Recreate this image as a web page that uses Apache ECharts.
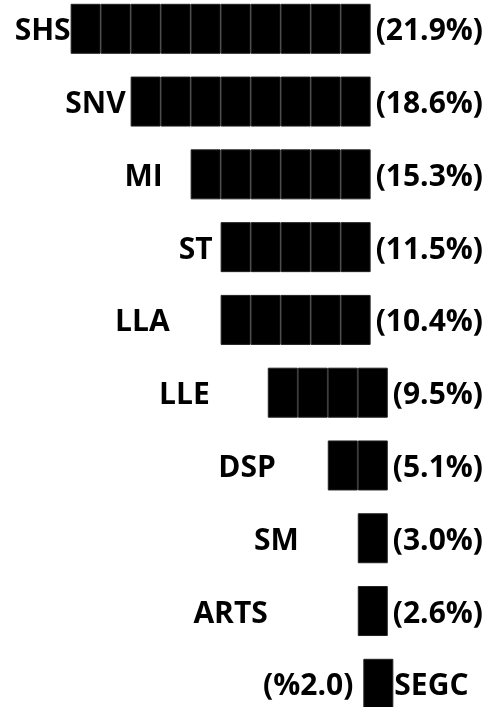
<!DOCTYPE html>
<html><head><meta charset="utf-8">
<script src="https://cdn.jsdelivr.net/npm/echarts@6/dist/echarts.min.js"></script>
<style>html,body{margin:0;padding:0;background:#fff}#c{width:488px;height:707px}</style>
</head><body><div id="c"></div>
<script>
// ---- data ----
const categories = ['SHS', 'SNV', 'MI', 'ST', 'LLA', 'LLE', 'DSP', 'SM', 'ARTS', 'SEGC'];
const shares = [21.9, 18.6, 15.3, 11.5, 10.4, 9.5, 5.1, 3.0, 2.6, 2.0];
const unitCounts = [10, 8, 6, 5, 5, 4, 2, 1, 1, 1];
const rowDirection = ['ltr', 'ltr', 'ltr', 'ltr', 'ltr', 'ltr', 'ltr', 'ltr', 'ltr', 'rtl'];

// ---- layout / style ----
const FONT_FAMILY = '"Open Sans", sans-serif';
const FONT_SIZE = 30;
const FONT_WEIGHT = 'bold';
const UNIT_PX = 30;
const ROW_END = 483;
const RTL_ROW_END = 468.5;
const VALUE_GAP = 5;
const nameGaps = [0, 5, 28, 8, 51, 58, 52, 59, 90, 10];
const TEXT_DY = 3;

const ctx = document.createElement('canvas').getContext('2d');
ctx.font = FONT_WEIGHT + ' ' + FONT_SIZE + 'px ' + FONT_FAMILY;
const tw = s => ctx.measureText(s).width;

const n = categories.length;
const leftText = [], rightText = [], barLeft = [], rightGap = [];
for (let i = 0; i < n; i++) {
  const v = shares[i].toFixed(1);
  let barRight;
  if (rowDirection[i] === 'rtl') {
    leftText.push('(%' + v + ')');
    rightText.push(categories[i]);
    rightGap.push(1);
    barRight = RTL_ROW_END - tw(categories[i]) - 1;
  } else {
    leftText.push(categories[i]);
    const t = '(' + v + '%)';
    rightText.push(t);
    rightGap.push(VALUE_GAP);
    barRight = ROW_END - tw(t) - VALUE_GAP;
  }
  barLeft.push(barRight - unitCounts[i] * UNIT_PX);
}

const textStyle = {
  color: '#000', fontFamily: FONT_FAMILY, fontSize: FONT_SIZE, fontWeight: FONT_WEIGHT,
  offset: [0, TEXT_DY]
};

const series = [{
  type: 'bar', stack: 'row', barWidth: 50, silent: true,
  itemStyle: { color: 'transparent' },
  data: barLeft.map((v, i) => ({
    value: v,
    label: Object.assign({ show: true, position: 'insideRight', distance: nameGaps[i], formatter: leftText[i] }, textStyle)
  }))
}];
const maxCount = Math.max.apply(null, unitCounts);
for (let k = 0; k < maxCount; k++) {
  series.push({
    type: 'bar', stack: 'row', barWidth: 50, silent: true,
    itemStyle: { color: '#000', borderColor: '#222', borderWidth: 1 },
    data: unitCounts.map((c, i) => k < c ? {
      value: UNIT_PX,
      label: k === c - 1
        ? Object.assign({ show: true, position: 'right', distance: rightGap[i], formatter: rightText[i] }, textStyle)
        : { show: false }
    } : '-')
  });
}

const chart = echarts.init(document.getElementById('c'), null, { renderer: 'canvas' });
chart.setOption({
  animation: false,
  grid: { left: 0, right: 0, top: 28.8, bottom: 23.2 },
  xAxis: { type: 'value', min: 0, max: 488, show: false },
  yAxis: { type: 'category', data: categories, inverse: true, boundaryGap: false, show: false },
  series: series
});
</script>
</body></html>
